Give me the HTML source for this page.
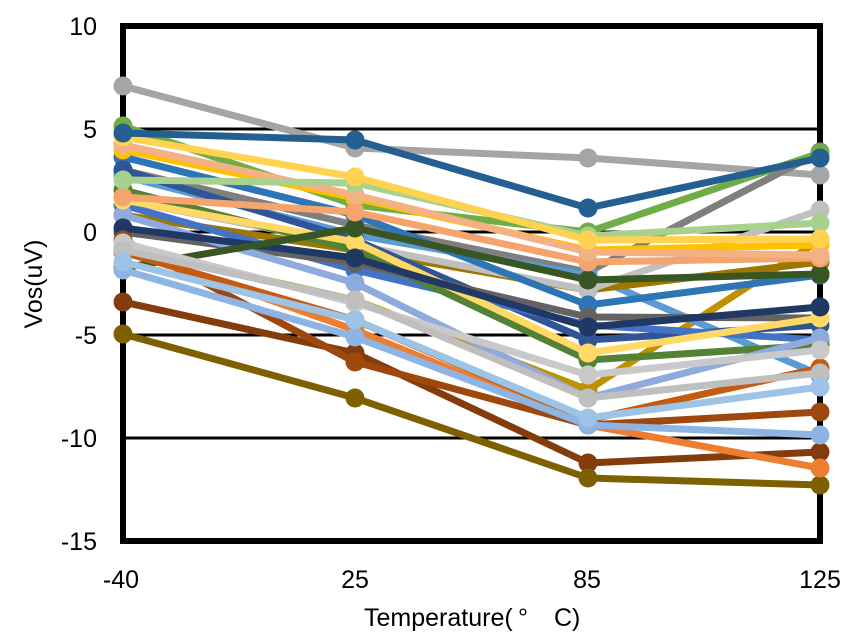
<!DOCTYPE html>
<html>
<head>
<meta charset="utf-8">
<style>
html,body{margin:0;padding:0;background:#fff;}
svg{display:block;}
text{font-family:"Liberation Sans",Arial,sans-serif;fill:#000;}
</style>
</head>
<body>
<svg width="861" height="636" viewBox="0 0 861 636" xmlns="http://www.w3.org/2000/svg">
<rect x="0" y="0" width="861" height="636" fill="#fff"/>
<!-- gridlines -->
<g stroke="#000" stroke-width="3">
<line x1="123" y1="129" x2="820" y2="129"/>
<line x1="123" y1="232" x2="820" y2="232"/>
<line x1="123" y1="335" x2="820" y2="335"/>
<line x1="123" y1="438" x2="820" y2="438"/>
</g>
<rect x="123" y="26" width="697" height="515" fill="none" stroke="#000" stroke-width="6"/>

<!-- y tick labels -->
<g font-size="25" text-anchor="end">
<text x="97" y="35">10</text>
<text x="97" y="138">5</text>
<text x="97" y="241">0</text>
<text x="97" y="344">-5</text>
<text x="97" y="447">-10</text>
<text x="97" y="550">-15</text>
</g>
<!-- x tick labels -->
<g font-size="25" text-anchor="middle">
<text x="121" y="588">-40</text>
<text x="355" y="588">25</text>
<text x="587" y="588">85</text>
<text x="820" y="588">125</text>
</g>
<text x="364" y="626" font-size="25">Temperature(</text>
<text x="518" y="626" font-size="25">°</text>
<text x="554" y="626" font-size="25">C)</text>
<text x="42" y="284" font-size="25" text-anchor="middle" transform="rotate(-90 42 284)">Vos(uV)</text>

<g id="series" fill="none" stroke-width="7" stroke-linejoin="round"></g>
<script>
(function(){
var X=[123,355,588,820];
var S=[
['#A5A5A5',[86,148,158,175]],
['#7F7F7F',[170,225,272,152]],
['#70AD47',[126,205,232,153]],
['#BF9000',[248,300,390,240]],
['#5B9BD5',[176,235,275,375]],
['#9E7700',[215,250,290,262]],
['#C0C0C0',[200,245,290,210]],
['#2E75B6',[157,215,305,275]],
['#FFC000',[150,198,250,245]],
['#2F5597',[170,240,340,325]],
['#4472C4',[205,270,325,340]],
['#548235',[190,250,360,345]],
['#636363',[232,263,317,318]],
['#8FAADC',[215,283,398,338]],
['#FFD966',[200,242,353,318]],
['#203864',[228,258,327,307]],
['#375623',[268,228,280,274]],
['#843C0C',[302,353,463,452]],
['#7F6000',[334,398,478,485]],
['#ED7D31',[248,330,425,468]],
['#9E480E',[240,362,425,412]],
['#C55A11',[252,320,420,368]],
['#C9C9C9',[243,303,375,350]],
['#BFBFBF',[250,300,398,373]],
['#8DB4E2',[270,337,425,435]],
['#9DC3E6',[262,320,418,387]],
['#F4A46C',[197,212,262,258]],
['#F4B183',[145,195,252,255]],
['#A9D18E',[180,183,236,223]],
['#FFD34F',[137,177,240,239]],
['#255E91',[133,140,208,158]]
];
var g=document.getElementById('series');
var ns='http://www.w3.org/2000/svg';
S.forEach(function(s){
  var pts=X.map(function(x,i){return x+','+s[1][i];}).join(' ');
  var pl=document.createElementNS(ns,'polyline');
  pl.setAttribute('points',pts);
  pl.setAttribute('stroke',s[0]);
  g.appendChild(pl);
  X.forEach(function(x,i){
    var c=document.createElementNS(ns,'circle');
    c.setAttribute('cx',x);c.setAttribute('cy',s[1][i]);c.setAttribute('r','9.5');
    c.setAttribute('fill',s[0]);c.setAttribute('stroke','none');
    g.appendChild(c);
  });
});
})();
</script>
</svg>
</body>
</html>
